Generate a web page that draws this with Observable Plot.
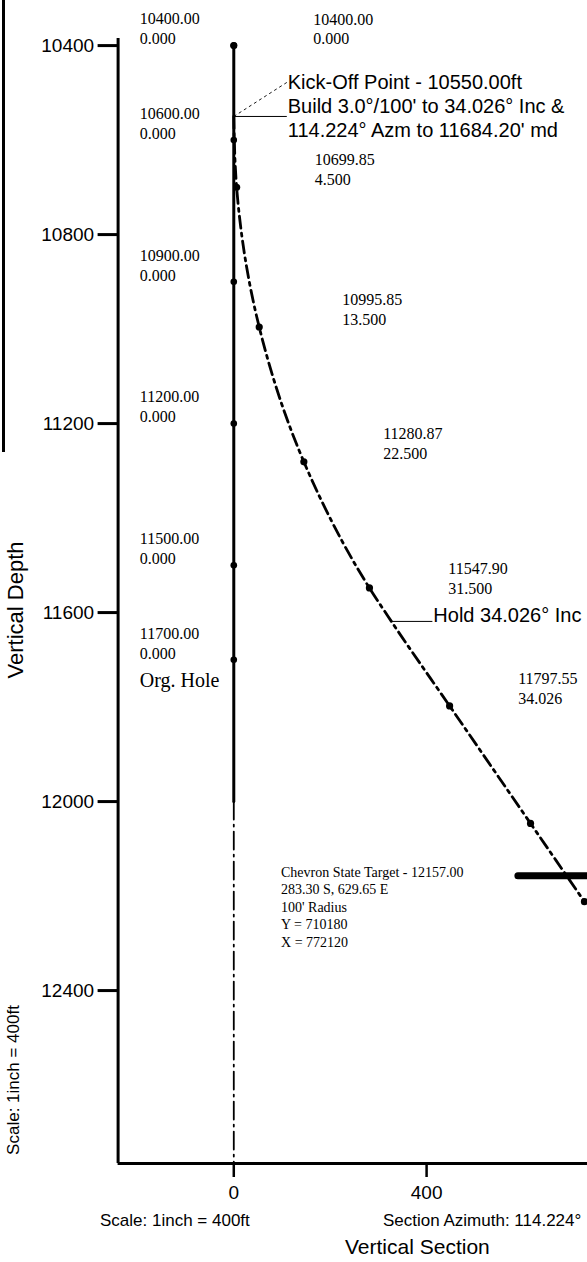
<!DOCTYPE html>
<html><head><meta charset="utf-8">
<script src="https://cdn.jsdelivr.net/npm/d3@7"></script>
<script src="https://cdn.jsdelivr.net/npm/@observablehq/plot@0.6"></script>
<style>
html,body{margin:0;padding:0;background:#fff;}
#wrap{position:relative;width:587px;height:1262px;overflow:hidden;background:#fff;}
#chart{position:absolute;left:0;top:0;width:760px;}
#chart svg{max-width:none !important;}
.t{position:absolute;font-family:Arial,"Liberation Sans",sans-serif;color:#000;white-space:nowrap;line-height:1;}
.rot{transform:translate(-50%,-50%) rotate(-90deg);}
</style></head><body>
<div id="wrap">
<div id="chart"></div>
<div class="t" style="left:2px;top:0;width:3px;height:452px;background:#000"></div>
<div class="t rot" style="left:16px;top:610px;font-size:22px;">Vertical Depth</div>
<div class="t rot" style="left:13px;top:1080px;font-size:17px;">Scale: 1inch = 400ft</div>
<div class="t" style="left:100px;top:1212px;font-size:17px;">Scale: 1inch = 400ft</div>
<div class="t" style="left:383px;top:1212px;font-size:17px;">Section Azimuth: 114.224°</div>
<div class="t" style="left:345px;top:1236px;font-size:21px;">Vertical Section</div>
</div>
<script>
// ---- data ----
const yTicks = [10400, 10800, 11200, 11600, 12000, 12400];
const xTicks = [0, 400];
const xDomain = [-240, 1000];
const yDomain = [10385, 12766];

// original hole stations (TVD, VS, Inc)
const orgHoleTVD = [10400, 10600, 10900, 11200, 11500, 11700];
const orgHoleVS  = [0, 0, 0, 0, 0, 0];
const orgHoleInc = [0, 0, 0, 0, 0, 0];
const orgHoleSolidEnd = 12000;

// sidetrack stations
const sideTVD = [10400, 10550, 10699.85, 10995.85, 11280.87, 11547.90, 11618.70, 11797.55, 12046.19, 12157.00, 12211.94];
const sideVS  = [0, 0, 5.89, 52.77, 145.38, 281.44, 327.00, 447.76, 615.63, 690.45, 727.54];
const sideInc = [0, 0, 4.5, 13.5, 22.5, 31.5, 34.026, 34.026, 34.026, 34.026, 34.026];
const sideMarked = [true, false, true, true, true, true, false, true, true, false, true];

// sidetrack station labels (TVD / Inc) and their anchor positions
const sideLabelIdx = [0, 2, 3, 4, 5, 7];
const sideLabelVS  = [165, 168, 225, 310, 445, 590];
const sideLabelTVD = [10363, 10660, 10956, 11241, 11525, 11758];

// target
const targetTVD = 12157.00;
const targetVS = 690.45;
const targetRadius = 100;
const targetText = "Chevron State Target - 12157.00\n283.30 S, 629.65 E\n100' Radius\nY = 710180\nX = 772120";
const targetLabelVS = 98;
const targetLabelTVD = 12150;

// annotations
const kopTVD = 10550;
const eobTVD = 11618.70, eobVS = 327.00;
const noteText = ["Kick-Off Point - 10550.00ft", "Build 3.0°/100' to 34.026° Inc &", "114.224° Azm to 11684.20' md", "Hold 34.026° Inc"];
const noteVS   = [112, 112, 112, 414];
const noteTVD  = [10478, 10530, 10579, 11606];
const orgLabelVS = -195;
const orgHoleText = "Org. Hole";
const orgHoleTextTVD = 11744;

// ---- build tables ----
const orgStations = orgHoleTVD.map((t, i) => ({tvd: t, vs: orgHoleVS[i], inc: orgHoleInc[i]}));
const side = sideTVD.map((t, i) => ({tvd: t, vs: sideVS[i], inc: sideInc[i], mark: sideMarked[i]}));
const sideLabels = sideLabelIdx.map((k, j) => ({vs: sideLabelVS[j], tvd: sideLabelTVD[j],
  text: side[k].tvd.toFixed(2) + "\n" + side[k].inc.toFixed(3)}));
const notes = noteText.map((s, i) => ({text: s, vs: noteVS[i], tvd: noteTVD[i]}));

const serif = "'Times New Roman','Liberation Serif',serif";
const sans = "Arial,'Liberation Sans',sans-serif";

const chart = Plot.plot({
  width: 760, height: 1205,
  marginLeft: 117.6, marginRight: 44.7, marginTop: 38, marginBottom: 42,
  style: {fontFamily: sans, background: "white", color: "black", maxWidth: "none"},
  x: {domain: xDomain, range: [117.6, 715.3]},
  y: {domain: yDomain, range: [38, 1163]},
  marks: [
    Plot.ruleX([xDomain[0]], {y1: yDomain[0], y2: yDomain[1], stroke: "black", strokeWidth: 3}),
    Plot.ruleY([yDomain[1]], {x1: xDomain[0], x2: xDomain[1], stroke: "black", strokeWidth: 3}),
    Plot.axisY({ticks: yTicks, anchor: "left", tickSize: 20, tickPadding: 4, strokeWidth: 3,
      fontSize: 19, tickFormat: d => String(d), label: null}),
    Plot.axisX({ticks: xTicks, anchor: "bottom", tickSize: 14, tickPadding: 8, strokeWidth: 2.5,
      fontSize: 19, tickFormat: d => String(d), label: null}),
    // original hole
    Plot.line([{vs: 0, tvd: orgHoleTVD[0]}, {vs: 0, tvd: orgHoleSolidEnd}], {x: "vs", y: "tvd", stroke: "black", strokeWidth: 3}),
    Plot.line([{vs: 0, tvd: orgHoleSolidEnd}, {vs: 0, tvd: yDomain[1]}], {x: "vs", y: "tvd", stroke: "black", strokeWidth: 1.8, strokeDasharray: "18,5,2,5"}),
    Plot.dot(orgStations, {x: "vs", y: "tvd", r: 3.3, fill: "black", stroke: "none"}),
    Plot.text(orgStations, {x: () => orgLabelVS, y: "tvd", dy: -17.5, text: d => d.tvd.toFixed(2) + "\n" + d.inc.toFixed(3),
      textAnchor: "start", lineAnchor: "middle", lineHeight: 1.25, fontSize: 16, fontFamily: serif, fill: "black"}),
    Plot.text([orgHoleText], {x: () => orgLabelVS, y: () => orgHoleTextTVD, text: d => d, textAnchor: "start",
      fontSize: 20, fontFamily: serif, fill: "black"}),
    // sidetrack
    Plot.line(side.slice(1), {x: "vs", y: "tvd", curve: "monotone-y", stroke: "black", strokeWidth: 2.8, strokeDasharray: "12,5,3,5"}),
    Plot.dot(side.filter(d => d.mark), {x: "vs", y: "tvd", r: 3.6, fill: "black", stroke: "none"}),
    Plot.text(sideLabels, {x: "vs", y: "tvd", text: "text", textAnchor: "start", lineAnchor: "middle", lineHeight: 1.25,
      fontSize: 16, fontFamily: serif, fill: "black"}),
    // target
    Plot.ruleY([{tvd: targetTVD, a: targetVS - targetRadius, b: targetVS + targetRadius}], {y: "tvd", x1: "a", x2: "b",
      stroke: "black", strokeWidth: 7, strokeLinecap: "round"}),
    Plot.text([targetText], {x: () => targetLabelVS, y: () => targetLabelTVD, text: d => d, textAnchor: "start",
      lineAnchor: "top", dy: -8, lineHeight: 1.25, fontSize: 14, fontFamily: serif, fill: "black"}),
    // leaders
    Plot.link([{x1: 0, y1: kopTVD, x2: noteVS[0] - 2, y2: noteTVD[0]}], {x1: "x1", y1: "y1", x2: "x2", y2: "y2",
      stroke: "black", strokeWidth: 0.9, strokeDasharray: "3,3"}),
    Plot.link([{x1: 0, y1: kopTVD, x2: noteVS[1] - 2, y2: kopTVD}], {x1: "x1", y1: "y1", x2: "x2", y2: "y2",
      stroke: "black", strokeWidth: 1}),
    Plot.link([{x1: eobVS, y1: eobTVD, x2: noteVS[3] - 2, y2: eobTVD}], {x1: "x1", y1: "y1", x2: "x2", y2: "y2",
      stroke: "black", strokeWidth: 1}),
    Plot.text(notes, {x: "vs", y: "tvd", text: "text", textAnchor: "start", fontSize: 20, fontFamily: sans, fill: "black"})
  ]
});
document.getElementById("chart").appendChild(chart);
</script>
</body></html>
